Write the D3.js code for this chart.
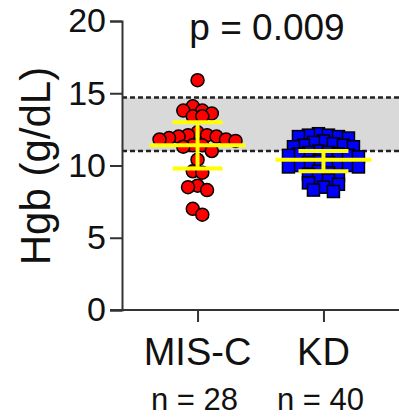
<!DOCTYPE html>
<html>
<head>
<meta charset="utf-8">
<script src="https://cdn.jsdelivr.net/npm/d3@7"></script>
<style>
  html, body { margin: 0; padding: 0; background: #fff; }
  svg { display: block; font-family: "Liberation Sans", Arial, Helvetica, sans-serif; }
</style>
</head>
<body>
<svg id="chart" width="399" height="417"></svg>
<script>
// groups and labels
const groups = ['MIS-C', 'KD'];
const groupN = ['n = 28', 'n = 40'];
const yTicks = [0, 5, 10, 15, 20];
const pLabel = 'p = 0.009';

// Hgb values (g/dL)
const misc = [15.9, 14.1, 13.8, 13.8, 13.6, 13.4, 13.4, 12.3, 12.1, 12.1, 12.0, 12.0,
  11.9, 11.8, 11.8, 11.7, 11.4, 11.4, 11.3, 11.0, 10.4, 9.6, 9.5, 8.6, 8.5, 8.3, 7.0, 6.6];
const kd = [12.2, 12.1, 12.1, 12.0, 12.0, 11.9,
  11.7, 11.6, 11.5, 11.4, 11.4, 11.3, 11.3,
  11.0, 10.9, 10.9, 10.8, 10.8, 10.7, 10.7, 10.6,
  10.3, 10.2, 10.2, 10.1, 10.0, 10.0, 9.9, 9.9,
  9.6, 9.5, 9.4, 9.3, 9.1, 9.0, 8.8, 8.7, 8.5, 8.3, 8.2];

// mean and error bar ends per group
const barMid = [11.4, 10.4];
const barHigh = [13.0, 11.0];
const barLow = [9.8, 9.6];

// reference range band
const refRange = [11.0, 14.7];

const svg = d3.select('#chart');
const W = 399;

const y = d3.scaleLinear().domain([0, 20]).range([310, 21]);
const x = d3.scalePoint().domain(groups).range([122, 399]).padding(0.6);

// reference band
svg.append('rect')
  .attr('x', x.range()[0]).attr('width', W - x.range()[0])
  .attr('y', y(refRange[1])).attr('height', y(refRange[0]) - y(refRange[1]))
  .attr('fill', '#d9d9d9');
svg.selectAll('line.ref').data(refRange).enter().append('line')
  .attr('class', 'ref')
  .attr('x1', x.range()[0]).attr('x2', W)
  .attr('y1', d => y(d)).attr('y2', d => y(d))
  .attr('stroke', '#222').attr('stroke-width', 2.5)
  .attr('stroke-dasharray', '5,3');

// column scatter: points close in value share a row and spread sideways
function scatterRows(vals, cx, rowH, gap) {
  const pts = vals.map(v => ({ v: v, y: y(v) })).sort((a, b) => a.y - b.y);
  const rows = [];
  pts.forEach(p => {
    const last = rows[rows.length - 1];
    if (last && p.y - last[0].y < rowH) last.push(p);
    else rows.push([p]);
  });
  const out = [];
  rows.forEach(r => {
    const n = r.length;
    // centre-out order so neighbours in value sit close to the middle
    const slots = d3.range(n).map(i => (i - (n - 1) / 2) * gap)
      .sort((a, b) => Math.abs(a) - Math.abs(b) || a - b);
    r.forEach((p, i) => out.push({ v: p.v, x: cx + slots[i], y: p.y }));
  });
  return out;
}

const miscPts = scatterRows(misc, x('MIS-C'), 9, 9.5);
const kdPts = scatterRows(kd, x('KD'), 6.5, 10);

svg.append('g').selectAll('circle').data(miscPts).enter().append('circle')
  .attr('cx', d => d.x).attr('cy', d => d.y).attr('r', 6.5)
  .attr('fill', '#ff0000').attr('stroke', '#000').attr('stroke-width', 1.5);

const sq = 12;
svg.append('g').selectAll('rect').data(kdPts).enter().append('rect')
  .attr('x', d => d.x - sq / 2).attr('y', d => d.y - sq / 2)
  .attr('width', sq).attr('height', sq)
  .attr('fill', '#0000ff').attr('stroke', '#000').attr('stroke-width', 1.5);

// mean +/- error bars
const eb = svg.append('g').attr('stroke', '#ffff00').attr('stroke-width', 4);
groups.forEach((g, i) => {
  const cx = x(g);
  eb.append('line').attr('x1', cx - 48).attr('x2', cx + 48)
    .attr('y1', y(barMid[i])).attr('y2', y(barMid[i]));
  eb.append('line').attr('x1', cx).attr('x2', cx)
    .attr('y1', y(barHigh[i])).attr('y2', y(barLow[i]));
  [barHigh[i], barLow[i]].forEach(v => {
    eb.append('line').attr('x1', cx - 25).attr('x2', cx + 25)
      .attr('y1', y(v)).attr('y2', y(v));
  });
});

// axes
const yAxis = svg.append('g')
  .attr('transform', 'translate(122,0)')
  .call(d3.axisLeft(y).tickValues(yTicks).tickSize(12).tickPadding(4));
const xAxis = svg.append('g')
  .attr('transform', 'translate(0,310)')
  .call(d3.axisBottom(x).tickSize(12).tickFormat(''));
[yAxis, xAxis].forEach(a => {
  a.select('.domain').attr('stroke', '#333').attr('stroke-width', 2);
  a.selectAll('.tick line').attr('stroke', '#333').attr('stroke-width', 2);
});
xAxis.select('.domain').attr('d', 'M110,0H' + W);
yAxis.selectAll('.tick text')
  .attr('font-size', 34).attr('fill', '#111').attr('font-family', null);

// group labels
svg.selectAll('text.grp').data(groups).enter().append('text')
  .attr('class', 'grp')
  .attr('x', d => x(d)).attr('y', 365)
  .attr('text-anchor', 'middle').attr('font-size', 38).attr('fill', '#111')
  .text(d => d);
svg.selectAll('text.n').data(groupN).enter().append('text')
  .attr('class', 'n')
  .attr('x', (d, i) => x(groups[i]) - 3).attr('y', 410)
  .attr('text-anchor', 'middle').attr('font-size', 31).attr('fill', '#111')
  .text(d => d);

// p value
svg.append('text')
  .attr('x', 267).attr('y', 40)
  .attr('text-anchor', 'middle').attr('font-size', 37).attr('fill', '#111')
  .text(pLabel);

// y title
svg.append('text')
  .attr('transform', 'translate(50,166) rotate(-90)')
  .attr('text-anchor', 'middle').attr('font-size', 42).attr('fill', '#111')
  .text('Hgb (g/dL)');
</script>
</body>
</html>
